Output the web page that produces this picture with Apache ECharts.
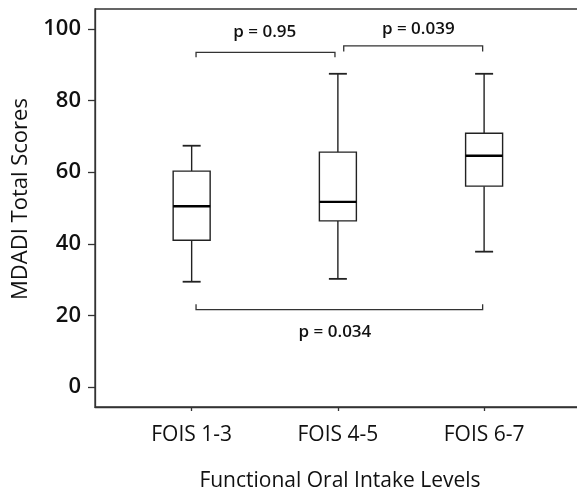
<!DOCTYPE html>
<html>
<head>
<meta charset="utf-8">
<script src="https://cdn.jsdelivr.net/npm/echarts@6/dist/echarts.min.js"></script>
<style>
  html, body { margin: 0; padding: 0; background: #fff; overflow: hidden; }
  #main { width: 592px; height: 494px; }
</style>
</head>
<body>
<div id="main"></div>
<script>
var chart = echarts.init(document.getElementById('main'));

// groups on the x axis
var categories = ['FOIS 1-3', 'FOIS 4-5', 'FOIS 6-7'];
var positions = [1, 2, 3];
// box stats: [low whisker, q1, median, q3, high whisker]
var boxStats = [
    [29.4, 41.0, 50.5, 60.3, 67.4],
    [30.2, 46.4, 51.7, 65.6, 87.5],
    [37.8, 56.1, 64.6, 70.9, 87.5]
];
// significance brackets: from, to, line level, tick end level
var bracketFrom = [1.03, 2.04, 1.03];
var bracketTo = [1.98, 2.99, 2.99];
var bracketLine = [93.5, 95.3, 21.6];
var bracketEnd = [92.1, 93.7, 23.1];
var pLabels = ['p = 0.95', 'p = 0.039', 'p = 0.034'];
var pLabelX = [1.5, 2.55, 1.98];
var pLabelY = [99.0, 99.9, 15.4];
var yTicks = [0, 20, 40, 60, 80, 100];

var ink = '#222';
var font = 'Open Sans';

var boxData = boxStats.map(function (s, i) {
    return [positions[i]].concat(s);
});
var bracketData = pLabels.map(function (t, i) {
    return [bracketFrom[i], bracketTo[i], bracketLine[i], bracketEnd[i], pLabelX[i], pLabelY[i]];
});

// plot frame runs past the right edge of the window, like the source figure
option = {
    backgroundColor: '#fff',
    animation: false,
    grid: {
        left: 95,
        top: 9,
        right: 7,
        bottom: 87,
        outerBoundsMode: 'none',
        containLabel: false,
        show: true,
        borderColor: '#333',
        borderWidth: 1.3
    },
    xAxis: {
        type: 'value',
        min: 0.339,
        max: 3.69,
        name: 'Functional Oral Intake Levels',
        nameLocation: 'middle',
        nameGap: 64,
        nameTextStyle: { fontFamily: font, fontSize: 21, color: '#111' },
        splitLine: { show: false },
        axisLine: { show: true, onZero: false, lineStyle: { color: '#333', width: 1.3 } },
        axisTick: {
            customValues: positions,
            length: 4,
            lineStyle: { color: '#333', width: 1.3 }
        },
        axisLabel: {
            customValues: positions,
            margin: 18,
            fontFamily: font,
            fontSize: 21,
            color: '#111',
            formatter: function (v) {
                return categories[positions.indexOf(Math.round(v))] || '';
            }
        }
    },
    yAxis: {
        type: 'value',
        min: -5.6,
        max: 105.6,
        name: 'MDADI Total Scores',
        nameLocation: 'middle',
        nameGap: 63,
        nameTextStyle: { fontFamily: font, fontSize: 22, color: '#111', padding: [0, 0, 0, 18] },
        splitLine: { show: false },
        axisLine: { show: true, onZero: false, lineStyle: { color: '#333', width: 1.3 } },
        axisTick: {
            show: true,
            customValues: yTicks,
            length: 7,
            lineStyle: { color: '#333', width: 1.3 }
        },
        axisLabel: {
            customValues: yTicks,
            margin: 14,
            fontFamily: font,
            fontSize: 22,
            fontWeight: 600,
            color: '#111'
        }
    },
    series: [{
        type: 'custom',
        data: boxData,
        renderItem: function (params, api) {
            var x = api.value(0);
            var lo = api.coord([x, api.value(1)]);
            var q1 = api.coord([x, api.value(2)]);
            var md = api.coord([x, api.value(3)]);
            var q3 = api.coord([x, api.value(4)]);
            var hi = api.coord([x, api.value(5)]);
            var cx = lo[0], hb = 18.5, hc = 9;
            var st = { stroke: ink, lineWidth: 1.4, fill: null };
            return {
                type: 'group',
                children: [
                    { type: 'line', shape: { x1: cx, y1: hi[1], x2: cx, y2: q3[1] }, style: st },
                    { type: 'line', shape: { x1: cx, y1: q1[1], x2: cx, y2: lo[1] }, style: st },
                    { type: 'line', shape: { x1: cx - hc, y1: hi[1], x2: cx + hc, y2: hi[1] }, style: { stroke: ink, lineWidth: 1.8 } },
                    { type: 'line', shape: { x1: cx - hc, y1: lo[1], x2: cx + hc, y2: lo[1] }, style: { stroke: ink, lineWidth: 1.8 } },
                    { type: 'rect', shape: { x: cx - hb, y: q3[1], width: hb * 2, height: q1[1] - q3[1] }, style: { stroke: ink, lineWidth: 1.4, fill: '#fff' } },
                    { type: 'line', shape: { x1: cx - hb, y1: md[1], x2: cx + hb, y2: md[1] }, style: { stroke: '#000', lineWidth: 2.4 } }
                ]
            };
        }
    }, {
        type: 'custom',
        data: bracketData,
        renderItem: function (params, api) {
            var a = api.coord([api.value(0), api.value(2)]);
            var b = api.coord([api.value(1), api.value(2)]);
            var e = api.coord([api.value(0), api.value(3)]);
            var t = api.coord([api.value(4), api.value(5)]);
            return {
                type: 'group',
                children: [
                    {
                        type: 'polyline',
                        shape: { points: [[a[0], e[1]], a, b, [b[0], e[1]]] },
                        style: { stroke: '#333', lineWidth: 1.3, fill: null }
                    },
                    {
                        type: 'text',
                        x: t[0],
                        y: t[1],
                        style: {
                            text: pLabels[params.dataIndex],
                            fontFamily: font,
                            fontSize: 17,
                            fontWeight: 600,
                            fill: '#111',
                            align: 'center',
                            verticalAlign: 'middle'
                        }
                    }
                ]
            };
        }
    }]
};

chart.setOption(option);
</script>
</body>
</html>
